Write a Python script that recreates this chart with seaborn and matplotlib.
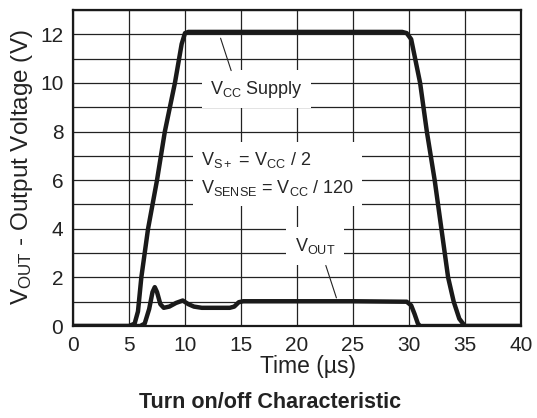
import numpy as np
import pandas as pd
import matplotlib
matplotlib.use('Agg')
import matplotlib.pyplot as plt
from matplotlib.ticker import MultipleLocator
import seaborn as sns

# Data
vcc_time = [0, 5.0, 5.5, 5.8, 6.1, 6.7, 7.5, 8.2, 9.1, 9.7, 10.0, 10.3, 15, 20, 25,
            29.4, 29.8, 30.2, 31.0, 31.6, 32.3, 32.9, 33.5, 34.0, 34.5, 35.0, 40]
vcc_volt = [0, 0, 0.1, 0.6, 2.0, 4.0, 6.0, 8.0, 10.0, 11.6, 12.05, 12.1, 12.1, 12.1, 12.1,
            12.1, 12.05, 11.8, 10.0, 8.0, 6.0, 4.0, 2.0, 1.0, 0.3, 0, 0]

vout_time = [0, 6.0, 6.4, 6.8, 7.1, 7.3, 7.5, 7.8, 8.1, 8.6, 9.2, 9.8, 10.3, 10.8, 11.5,
             14.0, 14.4, 14.8, 15.2, 20, 25, 29.8, 30.2, 30.5, 30.8, 31.0, 35, 40]
vout_volt = [0, 0, 0.1, 0.7, 1.4, 1.6, 1.4, 0.9, 0.75, 0.8, 0.95, 1.05, 0.9, 0.8, 0.75,
             0.75, 0.8, 0.98, 1.02, 1.02, 1.02, 1.0, 0.85, 0.5, 0.1, 0, 0, 0]

x_ticks = [0, 5, 10, 15, 20, 25, 30, 35, 40]
y_ticks = [0, 2, 4, 6, 8, 10, 12]

sns.set_style('white')
plt.rcParams['font.family'] = ['Liberation Sans', 'DejaVu Sans']
plt.rcParams['mathtext.fontset'] = 'custom'
plt.rcParams['mathtext.rm'] = 'Liberation Sans'
plt.rcParams['mathtext.it'] = 'Liberation Sans'

df_vcc = pd.DataFrame({'t': vcc_time, 'v': vcc_volt})
df_out = pd.DataFrame({'t': vout_time, 'v': vout_volt})

fig = plt.figure(figsize=(5.37, 4.18), dpi=100)
ax = fig.add_axes([0.136, 0.220, 0.834, 0.756])

sns.lineplot(data=df_vcc, x='t', y='v', ax=ax, color='#1a1a1a', lw=3.2,
             estimator=None, sort=False, zorder=3)
sns.lineplot(data=df_out, x='t', y='v', ax=ax, color='#1a1a1a', lw=3.2,
             estimator=None, sort=False, zorder=3)
for ln in ax.lines:
    ln.set_solid_joinstyle('round')
    ln.set_solid_capstyle('round')

ax.set_xlim(0, 40)
ax.set_ylim(0, 13)
ax.set_xticks(x_ticks)
ax.set_yticks(y_ticks)
ax.yaxis.set_minor_locator(MultipleLocator(1))
ax.grid(which='both', color='#222222', lw=0.9, zorder=0)
ax.set_axisbelow(True)
ax.tick_params(which='both', length=0, labelsize=15, pad=7, colors='#222222')
for s in ax.spines.values():
    s.set_color('#1a1a1a')
    s.set_linewidth(1.6)
ax.set_xlabel('')
ax.set_ylabel('')

box = dict(facecolor='white', edgecolor='none', boxstyle='square,pad=0.45')
ax.text(16.4, 9.75, r'$\mathregular{V_{CC}}$ Supply', fontsize=13, ha='center',
        va='center', bbox=box, zorder=4)
ax.text(11.4, 6.25, r'$\mathregular{V_{S+}}$ = $\mathregular{V_{CC}}$ / 2' + '\n' +
        r'$\mathregular{V_{SENSE}}$ = $\mathregular{V_{CC}}$ / 120',
        fontsize=13, ha='left', va='center', linespacing=1.55, bbox=box, zorder=4)
ax.text(21.6, 3.3, r'$\mathregular{V_{OUT}}$', fontsize=13, ha='center',
        va='center', bbox=dict(facecolor='white', edgecolor='none',
                               boxstyle='square,pad=0.5'), zorder=4)

ax.annotate('', xy=(13.1, 11.95), xytext=(14.2, 10.4),
            arrowprops=dict(arrowstyle='-', lw=0.8, color='#222222'), zorder=5)
ax.annotate('', xy=(23.6, 1.05), xytext=(22.5, 2.6),
            arrowprops=dict(arrowstyle='-', lw=0.8, color='#222222'), zorder=5)

fig.text(22 / 537, 1 - 167 / 418, r'$\mathregular{V_{OUT}}$ - Output Voltage (V)',
         rotation=90, ha='center', va='center', fontsize=17.5, color='#222222')
fig.text(308 / 537, 1 - 366 / 418, 'Time (µs)', ha='center', va='center',
         fontsize=16.5, color='#222222')
fig.text(270 / 537, 1 - 402 / 418, 'Turn on/off Characteristic', ha='center',
         va='center', fontsize=15.5, fontweight='bold', color='#222222')

fig.savefig('out.png', dpi=100)
